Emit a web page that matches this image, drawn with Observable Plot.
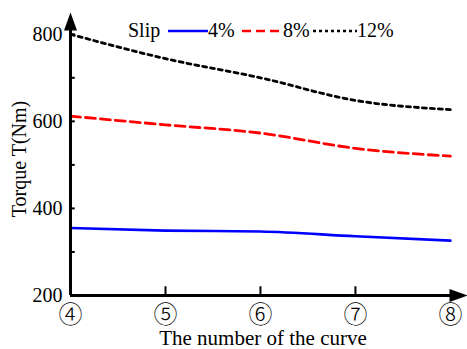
<!DOCTYPE html>
<html>
<head>
<meta charset="utf-8">
<script src="https://cdn.jsdelivr.net/npm/d3@7"></script>
<script src="https://cdn.jsdelivr.net/npm/@observablehq/plot@0.6"></script>
<style>
  html, body { margin: 0; padding: 0; background: #fff; }
  #wrap { position: relative; width: 467px; height: 349px; }
  #legend { position: absolute; left: 0; top: 0; pointer-events: none; }
</style>
</head>
<body>
<div id="wrap"></div>
<script>
// ---- data ----
const curves = [4, 5, 6, 7, 8];
const curveLabels = ["④", "⑤", "⑥", "⑦", "⑧"];
const slip4 = [355, 349, 347, 336, 326];
const slip8 = [612, 592, 573, 538, 520];
const slip12 = [800, 744, 700, 648, 627];
const seriesNames = ["4%", "8%", "12%"];
const seriesColors = ["#0000ff", "#ff0000", "#000000"];
const yTicks = [200, 400, 600, 800];
const yMinorTicks = [300, 400, 500, 600, 700, 800];
const xInnerTicks = [5, 6, 7];

const serif = "'Liberation Serif', 'Times New Roman', serif";
const xDomain = [4, 8.18];
const yDomain = [200, 850];

const rows = [];
[slip4, slip8, slip12].forEach((vals, s) => {
  curves.forEach((c, i) => rows.push({curve: c, torque: vals[i], series: seriesNames[s]}));
});
const styles = {
  "4%": {stroke: seriesColors[0], dash: null, width: 2.6},
  "8%": {stroke: seriesColors[1], dash: "10,5", width: 2.8},
  "12%": {stroke: seriesColors[2], dash: "4,4", width: 2.8}
};

const arrowSymbol = {
  draw(ctx) {
    ctx.moveTo(0, 0);
    ctx.lineTo(6.5, 18);
    ctx.lineTo(-6.5, 18);
    ctx.closePath();
  }
};

const chart = Plot.plot({
  width: 467,
  height: 349,
  marginLeft: 70,
  marginRight: 0,
  marginTop: 12,
  marginBottom: 54,
  style: {fontFamily: serif, background: "#fff", color: "#000"},
  x: {domain: xDomain, label: null},
  y: {domain: yDomain, label: null},
  marks: [
    Plot.axisY({ticks: yTicks, tickSize: 0, tickPadding: 8, fontSize: 20, fontFamily: serif, label: null}),
    Plot.axisX({ticks: curves, tickSize: 0, tickPadding: 10, fontSize: 24,
      fontFamily: "'Noto Sans CJK SC', 'DejaVu Sans', sans-serif", fontWeight: 300,
      tickFormat: d => curveLabels[curves.indexOf(d)], label: null}),
    ...seriesNames.map(name => Plot.line(rows.filter(r => r.series === name), {
      x: "curve", y: "torque", stroke: styles[name].stroke,
      strokeWidth: styles[name].width, strokeDasharray: styles[name].dash,
      curve: "monotone-x"
    })),
    // axis lines
    Plot.ruleX([xDomain[0]], {y1: yDomain[0], y2: yDomain[1] - 20, stroke: "#000", strokeWidth: 3}),
    Plot.ruleY([yDomain[0]], {x1: xDomain[0], x2: xDomain[1] - 0.1, stroke: "#000", strokeWidth: 3}),
    // inner ticks
    Plot.ruleY(yMinorTicks, {x1: xDomain[0], x2: xDomain[0] + 0.05, stroke: "#000", strokeWidth: 2}),
    Plot.ruleX(xInnerTicks, {y1: yDomain[0], y2: yDomain[0] + 20, stroke: "#000", strokeWidth: 2}),
    // arrow heads
    Plot.dot([0], {x: () => xDomain[0], y: () => yDomain[1], symbol: arrowSymbol, fill: "#000", stroke: "none", r: 5}),
    Plot.dot([0], {x: () => xDomain[1], y: () => yDomain[0], symbol: arrowSymbol, fill: "#000", stroke: "none", r: 5, rotate: 90}),
    // axis titles
    Plot.text(["Torque T(Nm)"], {frameAnchor: "left", text: d => d, rotate: -90, dx: -51, dy: 5,
      fontSize: 20, fontFamily: serif, fill: "#000", textAnchor: "middle", lineAnchor: "middle"}),
    Plot.text(["The number of the curve"], {frameAnchor: "bottom", text: d => d, dy: 43, dx: -6,
      fontSize: 21, fontFamily: serif, fill: "#000", lineAnchor: "middle"})
  ]
});

const wrap = document.getElementById("wrap");
wrap.appendChild(chart);

// ---- legend (drawn over the plot, top) ----
const legend = d3.select(wrap).append("svg")
  .attr("id", "legend").attr("width", 467).attr("height", 50)
  .style("font-family", serif).style("font-size", "20px");
const baseline = 37, lineY = 31;
legend.append("text").attr("x", 128).attr("y", baseline).text("Slip");
const sampleStarts = [168, 242, 313];
const sampleLen = [40, 41, 44];
const legendDash = [null, "9,5", "3,3"];
seriesNames.forEach((name, i) => {
  const x0 = sampleStarts[i];
  legend.append("line").attr("x1", x0).attr("x2", x0 + sampleLen[i])
    .attr("y1", lineY).attr("y2", lineY)
    .attr("stroke", seriesColors[i]).attr("stroke-width", 2.6)
    .attr("stroke-dasharray", legendDash[i]);
  legend.append("text").attr("x", x0 + sampleLen[i]).attr("y", baseline).text(name);
});
</script>
</body>
</html>
